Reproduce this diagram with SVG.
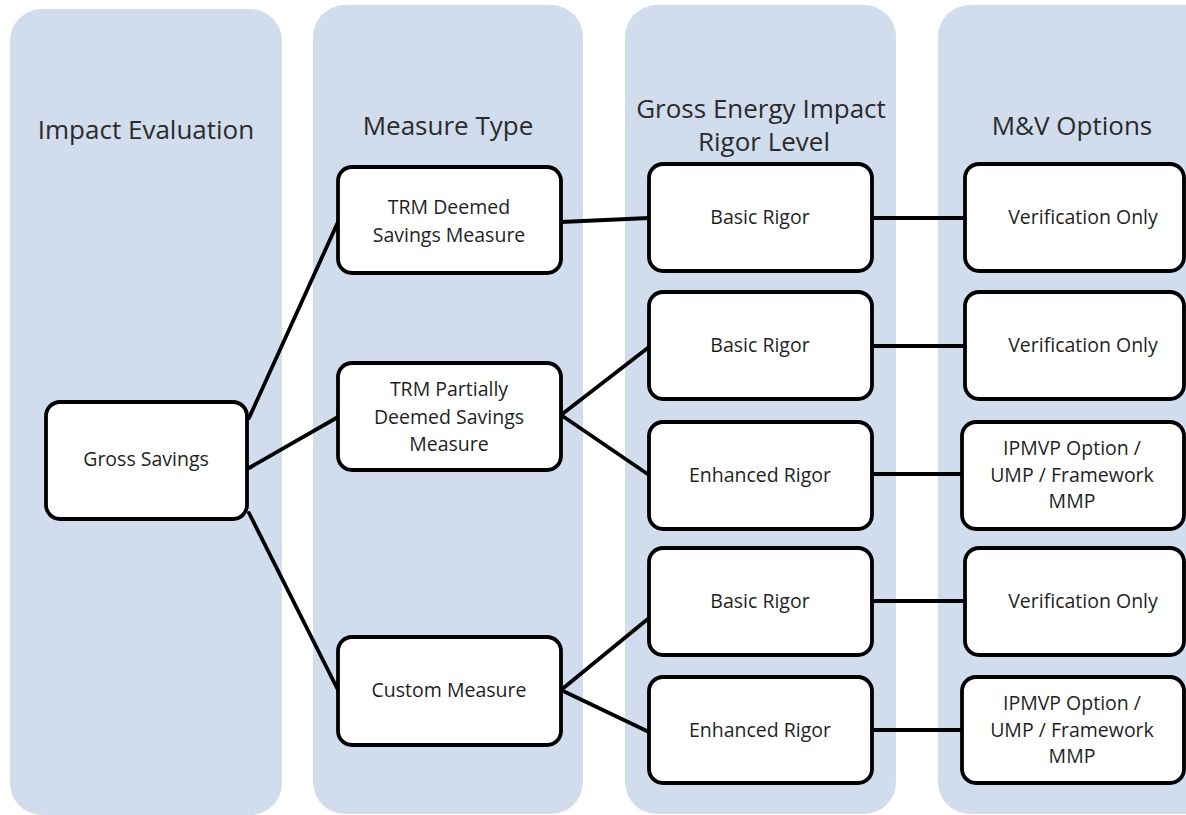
<svg xmlns="http://www.w3.org/2000/svg" width="1186" height="815" viewBox="0 0 1186 815">
  <style>
    .col { fill: #D1DCED; }
    .box { fill: #FFFFFF; stroke: #000000; stroke-width: 3.8; }
    .title { font-family: "Open Sans", "Liberation Sans", sans-serif; font-size: 26px; fill: #2B2B2B; text-anchor: middle; }
    .lbl { font-family: "Open Sans", "Liberation Sans", sans-serif; font-size: 19.5px; fill: #1F1F1F; text-anchor: middle; }
    .conn line { stroke: #000000; stroke-width: 3.8; stroke-linecap: round; }
  </style>
  <rect width="1186" height="815" fill="#FFFFFF"/>
  <g id="lanes">
    <g id="lane-impact">
      <rect class="col" x="10" y="9" width="272" height="806" rx="32"/>
      <text class="title" x="146" y="139">Impact Evaluation</text>
    </g>
    <g id="lane-measure">
      <rect class="col" x="313" y="5" width="270" height="809" rx="32"/>
      <text class="title" x="448" y="135">Measure Type</text>
    </g>
    <g id="lane-rigor">
      <rect class="col" x="625" y="5" width="271" height="809" rx="32"/>
      <text class="title" x="761" y="118">Gross Energy Impact</text>
      <text class="title" x="764" y="151">Rigor Level</text>
    </g>
    <g id="lane-mv">
      <rect class="col" x="938" y="5" width="290" height="809" rx="32"/>
      <text class="title" x="1072" y="135">M&amp;V Options</text>
    </g>
  </g>
  <g id="connectors" class="conn">
    <line x1="249" y1="418" x2="338" y2="222"/>
    <line x1="249" y1="468" x2="338" y2="417"/>
    <line x1="249" y1="513" x2="338" y2="690"/>
    <line x1="561" y1="222" x2="649" y2="218"/>
    <line x1="561" y1="415" x2="649" y2="347"/>
    <line x1="561" y1="415" x2="649" y2="475"/>
    <line x1="561" y1="690" x2="649" y2="618"/>
    <line x1="561" y1="690" x2="649" y2="732"/>
    <line x1="872" y1="218" x2="965" y2="218"/>
    <line x1="872" y1="346" x2="965" y2="346"/>
    <line x1="872" y1="474" x2="962" y2="474"/>
    <line x1="872" y1="601" x2="965" y2="601"/>
    <line x1="872" y1="730" x2="962" y2="730"/>
  </g>
  <g id="gross-savings">
    <rect class="box" x="46" y="402" width="201" height="117" rx="14"/>
    <text class="lbl" x="146" y="466">Gross Savings</text>
  </g>
  <g id="trm-deemed">
    <rect class="box" x="338" y="167" width="223" height="106" rx="14"/>
    <text class="lbl" x="449" y="214">TRM Deemed</text>
    <text class="lbl" x="449" y="242">Savings Measure</text>
  </g>
  <g id="trm-partial">
    <rect class="box" x="338" y="363" width="223" height="107" rx="14"/>
    <text class="lbl" x="449" y="396">TRM Partially</text>
    <text class="lbl" x="449" y="424">Deemed Savings</text>
    <text class="lbl" x="449" y="451">Measure</text>
  </g>
  <g id="custom">
    <rect class="box" x="338" y="637" width="223" height="108" rx="14"/>
    <text class="lbl" x="449" y="697">Custom Measure</text>
  </g>
  <g id="basic-1">
    <rect class="box" x="649" y="164" width="223" height="107" rx="14"/>
    <text class="lbl" x="760" y="224">Basic Rigor</text>
  </g>
  <g id="basic-2">
    <rect class="box" x="649" y="292" width="223" height="107" rx="14"/>
    <text class="lbl" x="760" y="352">Basic Rigor</text>
  </g>
  <g id="enhanced-1">
    <rect class="box" x="649" y="422" width="223" height="107" rx="14"/>
    <text class="lbl" x="760" y="482">Enhanced Rigor</text>
  </g>
  <g id="basic-3">
    <rect class="box" x="649" y="548" width="223" height="107" rx="14"/>
    <text class="lbl" x="760" y="608">Basic Rigor</text>
  </g>
  <g id="enhanced-2">
    <rect class="box" x="649" y="677" width="223" height="106" rx="14"/>
    <text class="lbl" x="760" y="737">Enhanced Rigor</text>
  </g>
  <g id="verify-1">
    <rect class="box" x="965" y="164" width="219" height="107" rx="14"/>
    <text class="lbl" x="1083" y="224">Verification Only</text>
  </g>
  <g id="verify-2">
    <rect class="box" x="965" y="292" width="219" height="107" rx="14"/>
    <text class="lbl" x="1083" y="352">Verification Only</text>
  </g>
  <g id="ipmvp-1">
    <rect class="box" x="962" y="422" width="222" height="107" rx="14"/>
    <text class="lbl" x="1072" y="455">IPMVP Option /</text>
    <text class="lbl" x="1072" y="482">UMP / Framework</text>
    <text class="lbl" x="1072" y="508">MMP</text>
  </g>
  <g id="verify-3">
    <rect class="box" x="965" y="548" width="219" height="107" rx="14"/>
    <text class="lbl" x="1083" y="608">Verification Only</text>
  </g>
  <g id="ipmvp-2">
    <rect class="box" x="962" y="677" width="222" height="106" rx="14"/>
    <text class="lbl" x="1072" y="710">IPMVP Option /</text>
    <text class="lbl" x="1072" y="737">UMP / Framework</text>
    <text class="lbl" x="1072" y="763">MMP</text>
  </g>
</svg>
